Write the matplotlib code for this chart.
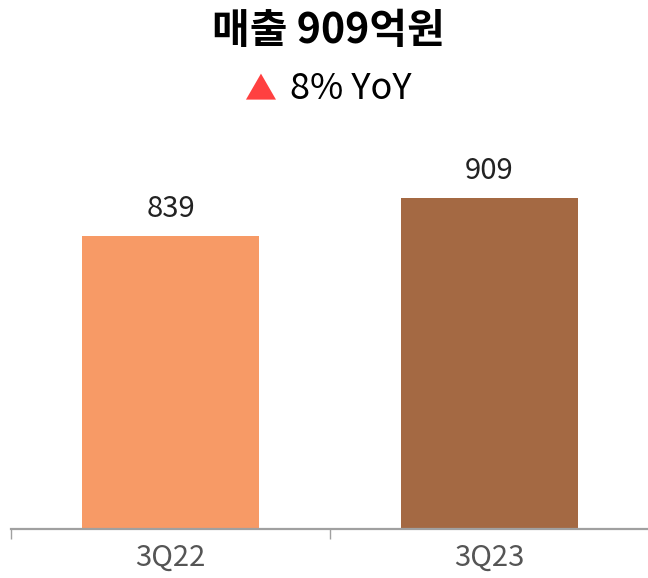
import matplotlib
matplotlib.use('Agg')
import matplotlib.pyplot as plt

plt.rcParams['font.family'] = ['Noto Sans CJK KR', 'DejaVu Sans']

quarters = ['3Q22', '3Q23']
sales = [839, 909]
bar_colors = ['#F79A66', '#A46943']
title = '매출 909억원'
growth = '8% YoY'

W, H = 648, 578
fig = plt.figure(figsize=(W / 100, H / 100), dpi=100)

# axes placed in pixel terms: baseline at y=529, category ticks at x=11, 330, 649
left_px, base_px, top_px = 11, 529, 129
ax = fig.add_axes([left_px / W, (H - base_px) / H, 638 / W, (base_px - top_px) / H])

px_per_unit = 0.5429
ymin = 300
ax.set_ylim(ymin, ymin + (base_px - top_px) / px_per_unit)
ax.set_xlim(-0.5, 1.5)

x = range(len(quarters))
bars = ax.bar(x, [v - ymin for v in sales], bottom=ymin, width=0.556, color=bar_colors)

for b, v in zip(bars, sales):
    ax.annotate(f'{v}', (b.get_x() + b.get_width() / 2, b.get_y() + b.get_height()),
                xytext=(0, 14), textcoords='offset points', ha='center', va='baseline',
                fontsize=21, fontweight='light', color='#222222')

for s in ['top', 'left', 'right']:
    ax.spines[s].set_visible(False)
ax.spines['bottom'].set_color('#a0a0a0')
ax.spines['bottom'].set_linewidth(1.6)
ax.set_yticks([])

ax.set_xticks(list(x))
ax.set_xticklabels(quarters, fontsize=21, color='#555555')
ax.tick_params(axis='x', which='major', length=0, pad=10)
ax.set_xticks([-0.5, 0.5, 1.5], minor=True)
ax.tick_params(axis='x', which='minor', length=7, width=1, color='#a0a0a0')

fig.text(328 / W, 1 - 31 / H, title, ha='center', va='center', fontsize=29.5,
         fontweight='bold', color='#000000')
fig.text(260 / W, 1 - 90 / H, '▲', ha='center', va='center', fontsize=23, color='#FF4040')
fig.text(290 / W, 1 - 89 / H, growth, ha='left', va='center', fontsize=26, color='#000000')

fig.savefig('out.png', dpi=100)
